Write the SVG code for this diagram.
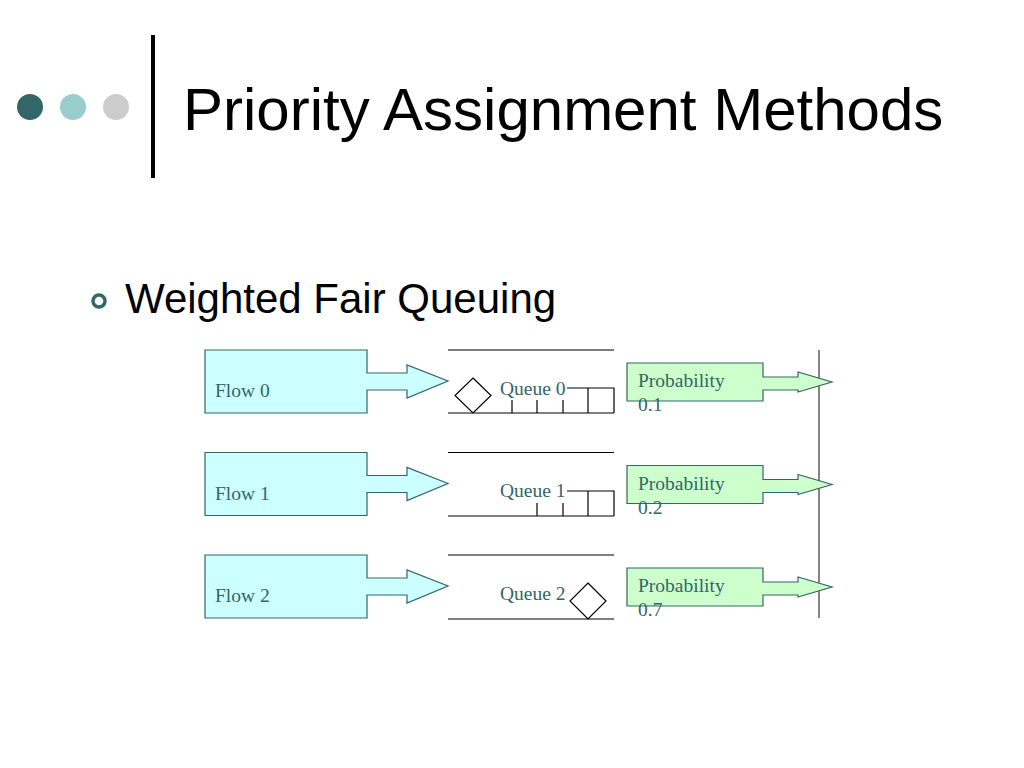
<svg xmlns="http://www.w3.org/2000/svg" width="1024" height="768" viewBox="0 0 1024 768">
<style>
.t{font-family:"Liberation Serif",serif;font-size:19.5px;fill:#336666}
.flow{fill:#ccffff;stroke:#336666;stroke-width:1.2}
.prob{fill:#ccffcc;stroke:#336666;stroke-width:1.2}
.q{fill:none;stroke:#000;stroke-width:1.2}
.d{fill:#fff;stroke:#000;stroke-width:1.2}
</style>
<rect width="1024" height="768" fill="#fff"/>
<circle cx="30" cy="107" r="13" fill="#336666"/>
<circle cx="73" cy="107" r="13" fill="#99cccc"/>
<circle cx="116" cy="107" r="13" fill="#cccccc"/>
<line x1="153" y1="35" x2="153" y2="178" stroke="#000" stroke-width="4"/>
<text x="183" y="130" font-family="Liberation Sans,sans-serif" font-size="60">Priority Assignment Methods</text>
<circle cx="99" cy="301" r="6" fill="none" stroke="#336666" stroke-width="3.5"/>
<text x="125" y="313" font-family="Liberation Sans,sans-serif" font-size="42">Weighted Fair Queuing</text>
<g id="connectors">
<line x1="819" y1="350" x2="819" y2="618" stroke="#333" stroke-width="1.2"/>
</g>
<g id="flow0"><path class="flow" d="M205,350H367V373H407V365L448,381L407,398V390H367V413H205Z"/><text class="t" x="215" y="397" font-size="17">Flow 0</text></g>
<g id="flow1" transform="translate(0,102.5)"><path class="flow" d="M205,350H367V373H407V365L448,381L407,398V390H367V413H205Z"/><text class="t" x="215" y="397" font-size="17">Flow 1</text></g>
<g id="flow2" transform="translate(0,205)"><path class="flow" d="M205,350H367V373H407V365L448,381L407,398V390H367V413H205Z"/><text class="t" x="215" y="397" font-size="17">Flow 2</text></g>
<g id="queue0">
<path class="q" d="M448,350H614M448,413H614M512,413V400M537,413V400M563,413V400M567,388H614V413M588,388V413"/>
<path class="d" d="M473,378L491,395.5L473,413L455,395.5Z"/>
<text class="t" x="500" y="395" font-size="17">Queue 0</text>
</g>
<g id="queue1">
<path class="q" d="M448,452.5H614M448,516H614M537,516V503M563,516V503M567,491H614V516M588,491V516"/>
<text class="t" x="500" y="497" font-size="17">Queue 1</text>
</g>
<g id="queue2">
<path class="q" d="M448,555H614M448,619H614"/>
<path class="d" d="M588,583L606,601L588,619L570,601Z"/>
<text class="t" x="500" y="600" font-size="17">Queue 2</text>
</g>
<g id="prob0"><path class="prob" d="M627,363H763V377H798V372L832,382L798,392V390H763V401H627Z"/><text class="t" x="638" y="387">Probability</text><text class="t" x="638" y="411">0.1</text></g>
<g id="prob1" transform="translate(0,102.5)"><path class="prob" d="M627,363H763V377H798V372L832,382L798,392V390H763V401H627Z"/><text class="t" x="638" y="387">Probability</text><text class="t" x="638" y="411">0.2</text></g>
<g id="prob2" transform="translate(0,205)"><path class="prob" d="M627,363H763V377H798V372L832,382L798,392V390H763V401H627Z"/><text class="t" x="638" y="387">Probability</text><text class="t" x="638" y="411">0.7</text></g>
</svg>
